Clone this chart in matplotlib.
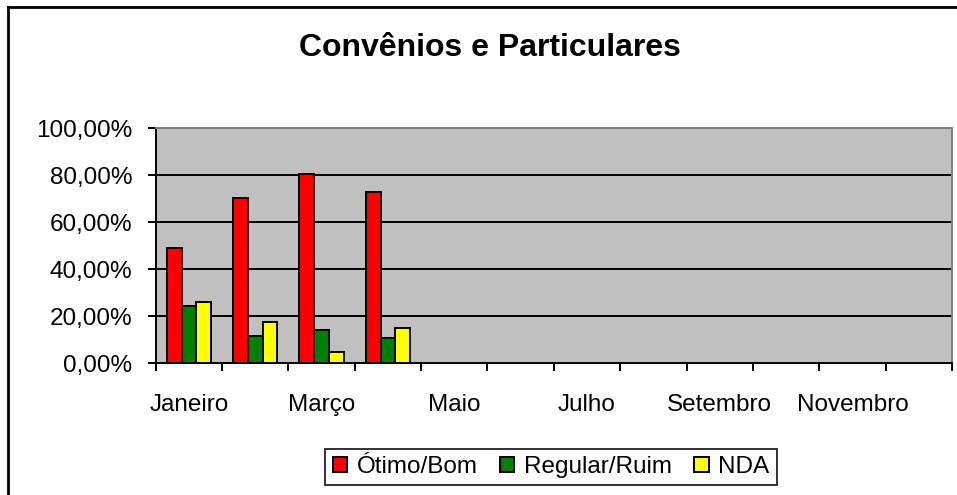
import matplotlib
matplotlib.use("Agg")
import matplotlib.pyplot as plt
import numpy as np
from matplotlib.lines import Line2D
from matplotlib.ticker import FixedLocator, NullFormatter

plt.rcParams.update({"font.family": ["Liberation Sans", "DejaVu Sans"]})

# data (percent)
months = ["Janeiro", "Fevereiro", "Março", "Abril", "Maio", "Junho",
          "Julho", "Agosto", "Setembro", "Outubro", "Novembro", "Dezembro"]
series_names = ["Ótimo/Bom", "Regular/Ruim", "NDA"]
otimo_bom = [49.2, 70.5, 80.7, 73.0]
regular_ruim = [24.4, 11.6, 14.2, 10.6]
nda = [26.2, 17.7, 5.0, 15.2]
yticks = [0, 20, 40, 60, 80, 100]

colors = ["#FF0000", "#008000", "#FFFF00"]
FS = 17.5

fig = plt.figure(figsize=(9.57, 4.95), dpi=100)
ax = fig.add_axes([155.7 / 957, 1 - 363.3 / 495, (952 - 155.7) / 957, (363.3 - 128.3) / 495])
ax.set_facecolor("#C0C0C0")

w = 1 / 4.5
x = np.arange(len(otimo_bom))
for k, (vals, name, col) in enumerate(zip([otimo_bom, regular_ruim, nda], series_names, colors)):
    ax.bar(x + (k - 1) * w, vals, width=w, color=col, edgecolor="black", linewidth=1.4,
           label=name, zorder=3)

ax.set_xlim(-0.5, len(months) - 0.5)
ax.set_ylim(0, 100)
ax.set_yticks(yticks)
ax.set_yticklabels([f"{v:.2f}%".replace(".", ",") for v in yticks], fontsize=FS)
ax.yaxis.grid(True, color="black", linewidth=1.4, zorder=1)
ax.tick_params(axis="y", direction="out", length=6, width=1.4, pad=11)

# ticks at category boundaries, labels on every other category centre
ax.xaxis.set_major_locator(FixedLocator(np.arange(len(months) + 1) - 0.5))
ax.xaxis.set_major_formatter(NullFormatter())
ax.xaxis.set_minor_locator(FixedLocator(np.arange(0, len(months), 2)))
ax.set_xticklabels(months[::2], minor=True, fontsize=FS)
ax.tick_params(axis="x", which="major", direction="out", length=6, width=1.4)
ax.tick_params(axis="x", which="minor", length=0, pad=22)

for s in ["left", "bottom"]:
    ax.spines[s].set_color("black")
    ax.spines[s].set_linewidth(1.4)
for s in ["top", "right"]:
    ax.spines[s].set_color("#808080")
    ax.spines[s].set_linewidth(1.4)
ax.set_axisbelow(True)

fig.text(0.512, 1 - 48 / 495, "Convênios e Particulares", ha="center", va="center",
         fontsize=23, weight="bold")

leg = fig.legend(loc="center", bbox_to_anchor=(551 / 957, 1 - 467 / 495), ncol=3,
                 fontsize=FS, frameon=True, fancybox=False, handlelength=0.6,
                 handleheight=0.6, handletextpad=0.4, columnspacing=0.9,
                 borderpad=0.3, borderaxespad=0)
leg.get_frame().set_edgecolor("black")
leg.get_frame().set_linewidth(1.4)

# outer chart frame (right and bottom edges fall outside the image)
fig.add_artist(Line2D([8 / 957, 8 / 957], [0, 1 - 7 / 495], color="black", lw=2,
                      transform=fig.transFigure))
fig.add_artist(Line2D([8 / 957, 1], [1 - 7 / 495, 1 - 7 / 495], color="black", lw=2,
                      transform=fig.transFigure))

fig.savefig("out.png", dpi=100)
